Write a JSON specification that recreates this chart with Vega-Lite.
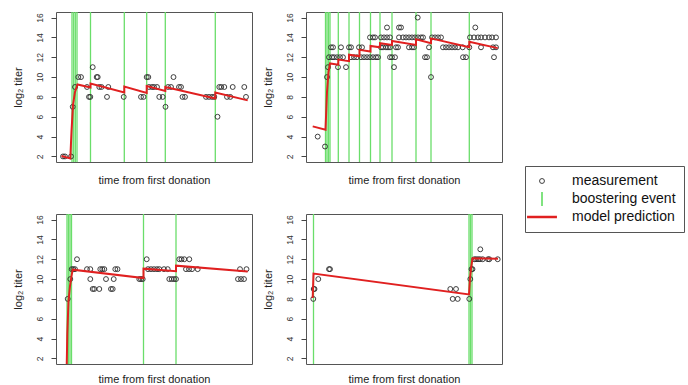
{
"$schema": "https://vega.github.io/schema/vega-lite/v6.json",
"padding": {"left": 11, "top": 10, "right": 0, "bottom": 0},
"background": "white",
"datasets": {
"m": [
{"p":1,"t":7,"v":2},{"p":1,"t":9,"v":2},{"p":1,"t":15,"v":2},
{"p":1,"t":16.7,"v":7},{"p":1,"t":109.5,"v":7},
{"p":1,"t":19,"v":9},{"p":1,"t":31,"v":9},{"p":1,"t":43.3,"v":9},{"p":1,"t":45.5,"v":9},{"p":1,"t":52.3,"v":9},{"p":1,"t":93,"v":9},{"p":1,"t":96,"v":9},{"p":1,"t":98,"v":9},{"p":1,"t":101,"v":9},{"p":1,"t":112,"v":9},{"p":1,"t":115,"v":9},{"p":1,"t":123,"v":9},{"p":1,"t":125,"v":9},{"p":1,"t":163.3,"v":9},{"p":1,"t":165.3,"v":9},{"p":1,"t":168.3,"v":9},{"p":1,"t":176.7,"v":9},{"p":1,"t":188.3,"v":9},
{"p":1,"t":22.3,"v":10},{"p":1,"t":25,"v":10},{"p":1,"t":40.7,"v":10},{"p":1,"t":41.7,"v":10},{"p":1,"t":90.7,"v":10},{"p":1,"t":92.3,"v":10},{"p":1,"t":117.5,"v":10},
{"p":1,"t":33,"v":8},{"p":1,"t":34.3,"v":8},{"p":1,"t":51,"v":8},{"p":1,"t":67.7,"v":8},{"p":1,"t":85,"v":8},{"p":1,"t":87.5,"v":8},{"p":1,"t":103.3,"v":8},{"p":1,"t":106.7,"v":8},{"p":1,"t":126.5,"v":8},{"p":1,"t":129,"v":8},{"p":1,"t":150,"v":8},{"p":1,"t":153,"v":8},{"p":1,"t":156,"v":8},{"p":1,"t":158.3,"v":8},{"p":1,"t":171,"v":8},{"p":1,"t":174.3,"v":8},{"p":1,"t":190,"v":8},
{"p":1,"t":36.7,"v":11},{"p":1,"t":161.5,"v":6},
{"p":2,"t":11.7,"v":4},{"p":2,"t":19,"v":3},{"p":2,"t":21,"v":10},{"p":2,"t":125,"v":10},
{"p":2,"t":22,"v":11},{"p":2,"t":32,"v":11},{"p":2,"t":40,"v":11},{"p":2,"t":88,"v":11},
{"p":2,"t":23,"v":12},{"p":2,"t":26,"v":12},{"p":2,"t":28,"v":12},{"p":2,"t":31,"v":12},{"p":2,"t":34,"v":12},{"p":2,"t":37,"v":12},{"p":2,"t":45,"v":12},{"p":2,"t":48,"v":12},{"p":2,"t":51,"v":12},{"p":2,"t":55,"v":12},{"p":2,"t":58,"v":12},{"p":2,"t":61,"v":12},{"p":2,"t":64,"v":12},{"p":2,"t":67,"v":12},{"p":2,"t":70,"v":12},{"p":2,"t":72,"v":12},{"p":2,"t":84,"v":12},{"p":2,"t":86,"v":12},{"p":2,"t":89,"v":12},{"p":2,"t":119,"v":12},{"p":2,"t":121,"v":12},{"p":2,"t":157,"v":12},{"p":2,"t":160,"v":12},{"p":2,"t":188,"v":12},
{"p":2,"t":25,"v":13},{"p":2,"t":27,"v":13},{"p":2,"t":35,"v":13},{"p":2,"t":43,"v":13},{"p":2,"t":45,"v":13},{"p":2,"t":53,"v":13},{"p":2,"t":56,"v":13},{"p":2,"t":75,"v":13},{"p":2,"t":77,"v":13},{"p":2,"t":80,"v":13},{"p":2,"t":82,"v":13},{"p":2,"t":84,"v":13},{"p":2,"t":90,"v":13},{"p":2,"t":92,"v":13},{"p":2,"t":103,"v":13},{"p":2,"t":106,"v":13},{"p":2,"t":108,"v":13},{"p":2,"t":123,"v":13},{"p":2,"t":137,"v":13},{"p":2,"t":140,"v":13},{"p":2,"t":143,"v":13},{"p":2,"t":146,"v":13},{"p":2,"t":149,"v":13},{"p":2,"t":152,"v":13},{"p":2,"t":156.7,"v":13},{"p":2,"t":163.3,"v":13},{"p":2,"t":175,"v":13},{"p":2,"t":187,"v":13},{"p":2,"t":190,"v":13},
{"p":2,"t":64,"v":14},{"p":2,"t":67,"v":14},{"p":2,"t":69,"v":14},{"p":2,"t":75,"v":14},{"p":2,"t":78,"v":14},{"p":2,"t":81,"v":14},{"p":2,"t":84,"v":14},{"p":2,"t":93,"v":14},{"p":2,"t":97,"v":14},{"p":2,"t":100,"v":14},{"p":2,"t":103,"v":14},{"p":2,"t":106,"v":14},{"p":2,"t":109,"v":14},{"p":2,"t":112,"v":14},{"p":2,"t":115,"v":14},{"p":2,"t":117,"v":14},{"p":2,"t":126,"v":14},{"p":2,"t":129,"v":14},{"p":2,"t":132,"v":14},{"p":2,"t":135,"v":14},{"p":2,"t":164,"v":14},{"p":2,"t":168,"v":14},{"p":2,"t":172,"v":14},{"p":2,"t":175,"v":14},{"p":2,"t":179,"v":14},{"p":2,"t":183,"v":14},{"p":2,"t":186,"v":14},{"p":2,"t":190,"v":14},
{"p":2,"t":81,"v":15},{"p":2,"t":93,"v":15},{"p":2,"t":95,"v":15},{"p":2,"t":169.3,"v":15},{"p":2,"t":111.7,"v":16},
{"p":3,"t":11.7,"v":8},
{"p":3,"t":36.7,"v":9},{"p":3,"t":38.3,"v":9},{"p":3,"t":43.3,"v":9},{"p":3,"t":55,"v":9},{"p":3,"t":56.7,"v":9},
{"p":3,"t":14.3,"v":10},{"p":3,"t":34.3,"v":10},{"p":3,"t":50,"v":10},{"p":3,"t":57.7,"v":10},{"p":3,"t":83.3,"v":10},{"p":3,"t":85,"v":10},{"p":3,"t":86.7,"v":10},{"p":3,"t":113.3,"v":10},{"p":3,"t":115.7,"v":10},{"p":3,"t":118,"v":10},{"p":3,"t":120,"v":10},{"p":3,"t":182,"v":10},{"p":3,"t":185,"v":10},{"p":3,"t":188,"v":10},
{"p":3,"t":15.7,"v":11},{"p":3,"t":17.3,"v":11},{"p":3,"t":19,"v":11},{"p":3,"t":31,"v":11},{"p":3,"t":34.3,"v":11},{"p":3,"t":44.3,"v":11},{"p":3,"t":46.3,"v":11},{"p":3,"t":48.3,"v":11},{"p":3,"t":59.3,"v":11},{"p":3,"t":61.5,"v":11},{"p":3,"t":92,"v":11},{"p":3,"t":95,"v":11},{"p":3,"t":98,"v":11},{"p":3,"t":101,"v":11},{"p":3,"t":103.3,"v":11},{"p":3,"t":108,"v":11},{"p":3,"t":111.7,"v":11},{"p":3,"t":130,"v":11},{"p":3,"t":133,"v":11},{"p":3,"t":136,"v":11},{"p":3,"t":141.7,"v":11},{"p":3,"t":184,"v":11},{"p":3,"t":190.5,"v":11},
{"p":3,"t":21,"v":12},{"p":3,"t":90.7,"v":12},{"p":3,"t":123.3,"v":12},{"p":3,"t":125.5,"v":12},{"p":3,"t":128.3,"v":12},{"p":3,"t":133.3,"v":12},
{"p":4,"t":7.3,"v":8},{"p":4,"t":146.7,"v":8},{"p":4,"t":151.7,"v":8},{"p":4,"t":163.3,"v":8},
{"p":4,"t":7.7,"v":9},{"p":4,"t":8.5,"v":9},{"p":4,"t":144.3,"v":9},{"p":4,"t":150,"v":9},
{"p":4,"t":12.3,"v":10},{"p":4,"t":164.3,"v":10},
{"p":4,"t":23,"v":11},{"p":4,"t":24,"v":11},{"p":4,"t":165.5,"v":11},{"p":4,"t":166.5,"v":11},
{"p":4,"t":168.3,"v":12},{"p":4,"t":170,"v":12},{"p":4,"t":172,"v":12},{"p":4,"t":174,"v":12},{"p":4,"t":176.7,"v":12},{"p":4,"t":182,"v":12},{"p":4,"t":183.3,"v":12},{"p":4,"t":191.7,"v":12},
{"p":4,"t":174.3,"v":13}
],
"b": [
{"p":1,"t":16},{"p":1,"t":17.7},{"p":1,"t":19.3},{"p":1,"t":21},{"p":1,"t":34.5},{"p":1,"t":68.3},{"p":1,"t":90.7},{"p":1,"t":109.3},{"p":1,"t":159.3},
{"p":2,"t":19.5},{"p":2,"t":21},{"p":2,"t":22.5},{"p":2,"t":24},{"p":2,"t":32.3},{"p":2,"t":43},{"p":2,"t":53.5},{"p":2,"t":64.5},{"p":2,"t":74},{"p":2,"t":86},{"p":2,"t":110},{"p":2,"t":125},{"p":2,"t":163.3},
{"p":3,"t":11},{"p":3,"t":12.5},{"p":3,"t":14},{"p":3,"t":15.5},{"p":3,"t":87.5},{"p":3,"t":120},
{"p":4,"t":7.5},{"p":4,"t":163},{"p":4,"t":164.5},{"p":4,"t":166}
],
"r": [
{"p":1,"i":1,"t":5.5,"v":2.05},{"p":1,"i":2,"t":14.3,"v":1.8},{"p":1,"i":3,"t":15.5,"v":4.5},{"p":1,"i":4,"t":17,"v":7.2},{"p":1,"i":5,"t":19,"v":8.5},{"p":1,"i":6,"t":21.5,"v":9.25},{"p":1,"i":7,"t":34.5,"v":8.95},{"p":1,"i":8,"t":34.5,"v":9.35},{"p":1,"i":9,"t":68.3,"v":8.45},{"p":1,"i":10,"t":68.3,"v":9.05},{"p":1,"i":11,"t":90.7,"v":8.4},{"p":1,"i":12,"t":90.7,"v":9.1},{"p":1,"i":13,"t":109.3,"v":8.6},{"p":1,"i":14,"t":109.3,"v":9.0},{"p":1,"i":15,"t":159.3,"v":7.85},{"p":1,"i":16,"t":159.3,"v":8.45},{"p":1,"i":17,"t":191.7,"v":7.65},
{"p":2,"i":1,"t":6.7,"v":5.03},{"p":2,"i":2,"t":19.5,"v":4.69},{"p":2,"i":3,"t":21,"v":8.5},{"p":2,"i":4,"t":22.5,"v":10.5},{"p":2,"i":5,"t":24,"v":11.37},{"p":2,"i":6,"t":32.3,"v":11.25},{"p":2,"i":7,"t":32.3,"v":11.76},{"p":2,"i":8,"t":43,"v":11.6},{"p":2,"i":9,"t":43,"v":12.26},{"p":2,"i":10,"t":53.5,"v":12.1},{"p":2,"i":11,"t":53.5,"v":12.75},{"p":2,"i":12,"t":64.5,"v":12.58},{"p":2,"i":13,"t":64.5,"v":13.14},{"p":2,"i":14,"t":74,"v":13.0},{"p":2,"i":15,"t":74,"v":13.41},{"p":2,"i":16,"t":86,"v":13.24},{"p":2,"i":17,"t":86,"v":13.64},{"p":2,"i":18,"t":110,"v":13.24},{"p":2,"i":19,"t":110,"v":13.8},{"p":2,"i":20,"t":125,"v":13.41},{"p":2,"i":21,"t":125,"v":13.9},{"p":2,"i":22,"t":163.3,"v":13.0},{"p":2,"i":23,"t":163.3,"v":13.57},{"p":2,"i":24,"t":191.7,"v":12.92},
{"p":3,"i":1,"t":10.5,"v":0},{"p":3,"i":2,"t":11.3,"v":4.5},{"p":3,"i":3,"t":12.5,"v":7.8},{"p":3,"i":4,"t":14,"v":9.3},{"p":3,"i":5,"t":15.5,"v":10.3},{"p":3,"i":6,"t":16.7,"v":10.95},{"p":3,"i":7,"t":87.5,"v":10.1},{"p":3,"i":8,"t":87.5,"v":11.05},{"p":3,"i":9,"t":120,"v":10.8},{"p":3,"i":10,"t":120,"v":11.35},{"p":3,"i":11,"t":191.7,"v":10.77},
{"p":4,"i":1,"t":6.7,"v":8.1},{"p":4,"i":2,"t":7.5,"v":10.55},{"p":4,"i":3,"t":163,"v":8.45},{"p":4,"i":4,"t":164,"v":10.1},{"p":4,"i":5,"t":165,"v":11.05},{"p":4,"i":6,"t":166.5,"v":12.1},{"p":4,"i":7,"t":192,"v":12.05}
]
},
"columns": 2,
"spacing": {"row": 52, "column": 54},
"bounds": "flush",
"concat": [
{"width":196,"height":150,"layer":[
{"data":{"name":"b"},"transform":[{"filter":"datum.p==1"}],"mark":{"type":"rule","color":"#6ade6a","strokeWidth":1.3},"encoding":{"x":{"field":"t","type":"quantitative","scale":{"domain":[0,196],"nice":false,"zero":false},"axis":{"title":"time from first donation","labels":false,"ticks":false,"domain":false,"grid":false,"titlePadding":12}}}},
{"data":{"name":"m"},"transform":[{"filter":"datum.p==1"}],"mark":{"type":"point","filled":false,"size":24,"opacity":1},"encoding":{"x":{"field":"t","type":"quantitative","scale":{"domain":[0,196],"nice":false,"zero":false},"axis":{"title":"time from first donation","labels":false,"ticks":false,"domain":false,"grid":false,"titlePadding":12}},"y":{"field":"v","type":"quantitative","scale":{"domain":[1.44,16.56],"nice":false,"zero":false},"axis":{"title":"log₂ titer","values":[2,4,6,8,10,12,14,16],"grid":false,"domain":false,"tickSize":5,"labelAngle":270,"labelPadding":7,"titlePadding":12}},
"color":{"datum":"measurement","type":"nominal","scale":{"domain":["measurement","boostering event","model prediction"],"range":["#2a2a2a","#6ade6a","#e02020"]},"legend":{"orient":"none","legendX":469,"legendY":154,"title":null}},
"shape":{"datum":"measurement","type":"nominal","scale":{"domain":["measurement","boostering event","model prediction"],"range":["circle","M0,-2.9L0,2.9","M-6.1,0L6.1,0"]},"legend":{"orient":"none","legendX":469,"legendY":154,"title":null}},
"strokeWidth":{"datum":"measurement","type":"nominal","scale":{"domain":["measurement","boostering event","model prediction"],"range":[0.9,2.5]},"legend":{"orient":"none","legendX":469,"legendY":154,"title":null}}}},
{"data":{"name":"r"},"transform":[{"filter":"datum.p==1"}],"mark":{"type":"line","color":"#e02020","strokeWidth":2,"clip":true},"encoding":{"x":{"field":"t","type":"quantitative","scale":{"domain":[0,196],"nice":false,"zero":false},"axis":{"title":"time from first donation","labels":false,"ticks":false,"domain":false,"grid":false,"titlePadding":12}},"y":{"field":"v","type":"quantitative","scale":{"domain":[1.44,16.56],"nice":false,"zero":false},"axis":{"title":"log₂ titer","values":[2,4,6,8,10,12,14,16],"grid":false,"domain":false,"tickSize":5,"labelAngle":270,"labelPadding":7,"titlePadding":12}},"order":{"field":"i","type":"quantitative"}}}
]},
{"width":196,"height":150,"layer":[
{"data":{"name":"b"},"transform":[{"filter":"datum.p==2"}],"mark":{"type":"rule","color":"#6ade6a","strokeWidth":1.3},"encoding":{"x":{"field":"t","type":"quantitative","scale":{"domain":[0,196],"nice":false,"zero":false},"axis":{"title":"time from first donation","labels":false,"ticks":false,"domain":false,"grid":false,"titlePadding":12}}}},
{"data":{"name":"m"},"transform":[{"filter":"datum.p==2"}],"mark":{"type":"point","filled":false,"size":24,"opacity":1},"encoding":{"x":{"field":"t","type":"quantitative","scale":{"domain":[0,196],"nice":false,"zero":false},"axis":{"title":"time from first donation","labels":false,"ticks":false,"domain":false,"grid":false,"titlePadding":12}},"y":{"field":"v","type":"quantitative","scale":{"domain":[1.44,16.56],"nice":false,"zero":false},"axis":{"title":"log₂ titer","values":[2,4,6,8,10,12,14,16],"grid":false,"domain":false,"tickSize":5,"labelAngle":270,"labelPadding":7,"titlePadding":12}},"stroke":{"value":"#2a2a2a"},"strokeWidth":{"value":0.9}}},
{"data":{"name":"r"},"transform":[{"filter":"datum.p==2"}],"mark":{"type":"line","color":"#e02020","strokeWidth":2,"clip":true},"encoding":{"x":{"field":"t","type":"quantitative","scale":{"domain":[0,196],"nice":false,"zero":false},"axis":{"title":"time from first donation","labels":false,"ticks":false,"domain":false,"grid":false,"titlePadding":12}},"y":{"field":"v","type":"quantitative","scale":{"domain":[1.44,16.56],"nice":false,"zero":false},"axis":{"title":"log₂ titer","values":[2,4,6,8,10,12,14,16],"grid":false,"domain":false,"tickSize":5,"labelAngle":270,"labelPadding":7,"titlePadding":12}},"order":{"field":"i","type":"quantitative"}}}
]},
{"width":196,"height":150,"layer":[
{"data":{"name":"b"},"transform":[{"filter":"datum.p==3"}],"mark":{"type":"rule","color":"#6ade6a","strokeWidth":1.3},"encoding":{"x":{"field":"t","type":"quantitative","scale":{"domain":[0,196],"nice":false,"zero":false},"axis":{"title":"time from first donation","labels":false,"ticks":false,"domain":false,"grid":false,"titlePadding":9}}}},
{"data":{"name":"m"},"transform":[{"filter":"datum.p==3"}],"mark":{"type":"point","filled":false,"size":24,"opacity":1},"encoding":{"x":{"field":"t","type":"quantitative","scale":{"domain":[0,196],"nice":false,"zero":false},"axis":{"title":"time from first donation","labels":false,"ticks":false,"domain":false,"grid":false,"titlePadding":9}},"y":{"field":"v","type":"quantitative","scale":{"domain":[1.44,16.56],"nice":false,"zero":false},"axis":{"title":"log₂ titer","values":[2,4,6,8,10,12,14,16],"grid":false,"domain":false,"tickSize":5,"labelAngle":270,"labelPadding":7,"titlePadding":12}},"stroke":{"value":"#2a2a2a"},"strokeWidth":{"value":0.9}}},
{"data":{"name":"r"},"transform":[{"filter":"datum.p==3"}],"mark":{"type":"line","color":"#e02020","strokeWidth":2,"clip":true},"encoding":{"x":{"field":"t","type":"quantitative","scale":{"domain":[0,196],"nice":false,"zero":false},"axis":{"title":"time from first donation","labels":false,"ticks":false,"domain":false,"grid":false,"titlePadding":9}},"y":{"field":"v","type":"quantitative","scale":{"domain":[1.44,16.56],"nice":false,"zero":false},"axis":{"title":"log₂ titer","values":[2,4,6,8,10,12,14,16],"grid":false,"domain":false,"tickSize":5,"labelAngle":270,"labelPadding":7,"titlePadding":12}},"order":{"field":"i","type":"quantitative"}}}
]},
{"width":196,"height":150,"layer":[
{"data":{"name":"b"},"transform":[{"filter":"datum.p==4"}],"mark":{"type":"rule","color":"#6ade6a","strokeWidth":1.3},"encoding":{"x":{"field":"t","type":"quantitative","scale":{"domain":[0,196],"nice":false,"zero":false},"axis":{"title":"time from first donation","labels":false,"ticks":false,"domain":false,"grid":false,"titlePadding":9}}}},
{"data":{"name":"m"},"transform":[{"filter":"datum.p==4"}],"mark":{"type":"point","filled":false,"size":24,"opacity":1},"encoding":{"x":{"field":"t","type":"quantitative","scale":{"domain":[0,196],"nice":false,"zero":false},"axis":{"title":"time from first donation","labels":false,"ticks":false,"domain":false,"grid":false,"titlePadding":9}},"y":{"field":"v","type":"quantitative","scale":{"domain":[1.44,16.56],"nice":false,"zero":false},"axis":{"title":"log₂ titer","values":[2,4,6,8,10,12,14,16],"grid":false,"domain":false,"tickSize":5,"labelAngle":270,"labelPadding":7,"titlePadding":12}},"stroke":{"value":"#2a2a2a"},"strokeWidth":{"value":0.9}}},
{"data":{"name":"r"},"transform":[{"filter":"datum.p==4"}],"mark":{"type":"line","color":"#e02020","strokeWidth":2,"clip":true},"encoding":{"x":{"field":"t","type":"quantitative","scale":{"domain":[0,196],"nice":false,"zero":false},"axis":{"title":"time from first donation","labels":false,"ticks":false,"domain":false,"grid":false,"titlePadding":9}},"y":{"field":"v","type":"quantitative","scale":{"domain":[1.44,16.56],"nice":false,"zero":false},"axis":{"title":"log₂ titer","values":[2,4,6,8,10,12,14,16],"grid":false,"domain":false,"tickSize":5,"labelAngle":270,"labelPadding":7,"titlePadding":12}},"order":{"field":"i","type":"quantitative"}}}
]}
],
"config": {
"font": "Liberation Sans",
"view": {"stroke": "#555", "strokeWidth": 1},
"axis": {"labelFont": "Liberation Sans", "titleFont": "Liberation Sans", "labelFontSize": 8.5, "titleFontSize": 11, "titleFontWeight": "normal", "labelColor": "#333", "titleColor": "#222", "tickColor": "#444"},
"legend": {"labelFont": "Liberation Sans", "labelFontSize": 14, "labelColor": "#111", "strokeColor": "#555", "fillColor": "white", "padding": 8, "symbolOffset": 2, "labelOffset": 23, "rowPadding": 0, "symbolSize": 24, "symbolType": "circle"}
}
}
